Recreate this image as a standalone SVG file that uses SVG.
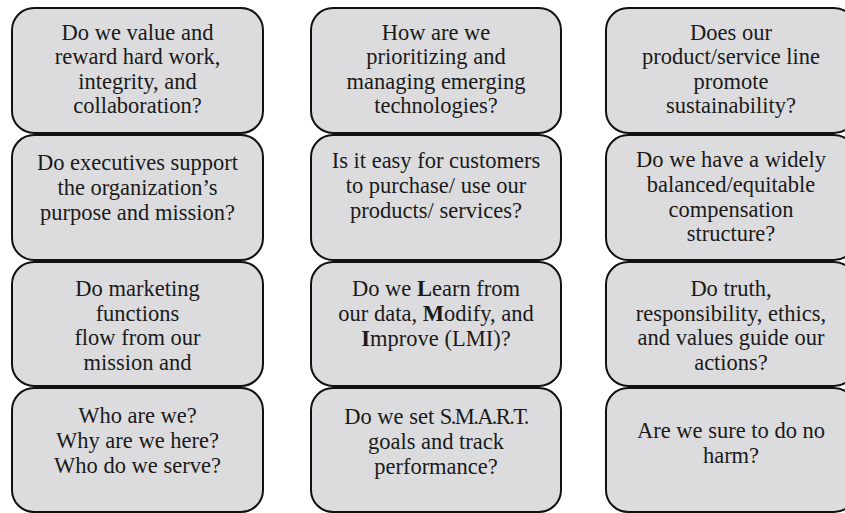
<svg xmlns="http://www.w3.org/2000/svg" width="845" height="513" viewBox="0 0 845 513">
<style>
.box{fill:#dcdcde;stroke:#111;stroke-width:2}
text{font-family:"Liberation Serif","DejaVu Serif",serif;font-size:22.5px;fill:#1a1a1a;text-anchor:middle}
.b{font-weight:bold}
</style>
<rect width="845" height="513" fill="#fff"/>
<g id="c1r1"><rect class="box" x="12" y="8" width="251" height="125" rx="22"/>
<text x="137.5" y="40">Do we value and</text><text x="137.5" y="64">reward hard work,</text><text x="137.5" y="88.5">integrity, and</text><text x="137.5" y="113">collaboration?</text></g>
<g id="c1r2"><rect class="box" x="12" y="135" width="251" height="125" rx="22"/>
<text x="137.5" y="170">Do executives support</text><text x="137.5" y="195">the organization’s</text><text x="137.5" y="220">purpose and mission?</text></g>
<g id="c1r3"><rect class="box" x="12" y="262" width="251" height="124" rx="22"/>
<text x="137.5" y="296">Do marketing</text><text x="137.5" y="320.5">functions</text><text x="137.5" y="345">flow from our</text><text x="137.5" y="370">mission and</text></g>
<g id="c1r4"><rect class="box" x="12" y="388" width="251" height="124" rx="22"/>
<text x="137.5" y="423">Who are we?</text><text x="137.5" y="448">Why are we here?</text><text x="137.5" y="473">Who do we serve?</text></g>

<g id="c2r1"><rect class="box" x="311" y="8" width="250" height="125" rx="22"/>
<text x="436" y="40">How are we</text><text x="436" y="64">prioritizing and</text><text x="436" y="88.5">managing emerging</text><text x="436" y="113">technologies?</text></g>
<g id="c2r2"><rect class="box" x="311" y="135" width="250" height="125" rx="22"/>
<text x="436" y="168">Is it easy for customers</text><text x="436" y="193">to purchase/ use our</text><text x="436" y="218">products/ services?</text></g>
<g id="c2r3"><rect class="box" x="311" y="262" width="250" height="124" rx="22"/>
<text x="436" y="296">Do we <tspan class="b">L</tspan>earn from</text><text x="436" y="321">our data, <tspan class="b">M</tspan>odify, and</text><text x="436" y="346"><tspan class="b">I</tspan>mprove (LMI)?</text></g>
<g id="c2r4"><rect class="box" x="311" y="388" width="250" height="124" rx="22"/>
<text x="436" y="424">Do we set <tspan letter-spacing="-1.6">S.M.A.R.T.</tspan></text><text x="436" y="449">goals and track</text><text x="436" y="474">performance?</text></g>

<g id="c3r1"><rect class="box" x="606" y="8" width="250" height="125" rx="22"/>
<text x="731" y="40">Does our</text><text x="731" y="64">product/service line</text><text x="731" y="88.5">promote</text><text x="731" y="113">sustainability?</text></g>
<g id="c3r2"><rect class="box" x="606" y="135" width="250" height="125" rx="22"/>
<text x="731" y="167">Do we have a widely</text><text x="731" y="192">balanced/equitable</text><text x="731" y="217">compensation</text><text x="731" y="241">structure?</text></g>
<g id="c3r3"><rect class="box" x="606" y="262" width="250" height="124" rx="22"/>
<text x="731" y="296">Do truth,</text><text x="731" y="321">responsibility, ethics,</text><text x="731" y="345">and values guide our</text><text x="731" y="370">actions?</text></g>
<g id="c3r4"><rect class="box" x="606" y="388" width="250" height="124" rx="22"/>
<text x="731" y="438">Are we sure to do no</text><text x="731" y="463">harm?</text></g>
<g id="connectors"></g>
</svg>
